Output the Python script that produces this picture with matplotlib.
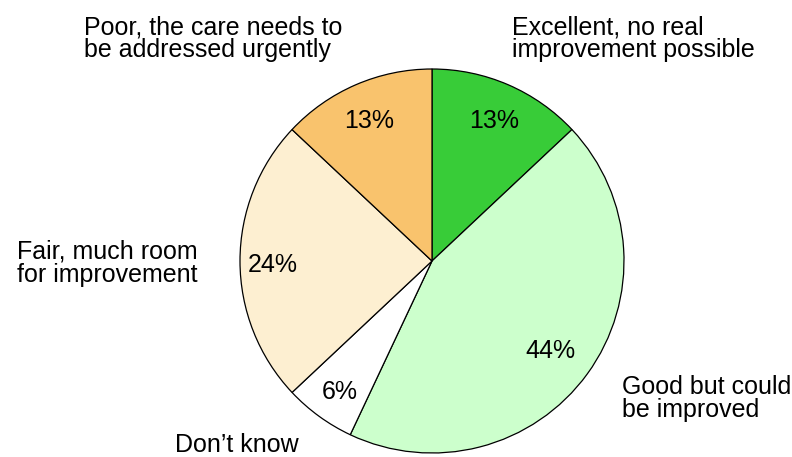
import numpy as np
import matplotlib.pyplot as plt

plt.rcParams['font.family'] = ['Liberation Sans', 'DejaVu Sans']

# Survey answers, clockwise from 12 o'clock
labels = [
    "Excellent, no real\nimprovement possible",
    "Good but could\nbe improved",
    "Don\u2019t know",
    "Fair, much room\nfor improvement",
    "Poor, the care needs to\nbe addressed urgently",
]
shares = [13, 44, 6, 24, 13]
colors = ["#38CC38", "#CCFFCC", "#FFFFFF", "#FDEFD1", "#F9C36D"]

# where each category name sits (figure pixels, top-left of the text block)
label_pos = [(512, 15), (622, 375), (175, 433), (17, 240), (84, 15)]
# how far out each percentage sits, as a fraction of the radius
pct_r = [0.82, 0.76, 0.82, 0.83, 0.82]

W, H = 792, 457
cx, cy, R = 432, 261, 192

fig = plt.figure(figsize=(W / 100, H / 100), dpi=100)
ax = fig.add_axes([0, 0, 1, 1])

wedges, _ = ax.pie(shares, colors=colors, startangle=90, counterclock=False,
                   radius=1.0, center=(0, 0),
                   wedgeprops=dict(edgecolor="black", linewidth=0.9))

# axis limits so that the pie lands at (cx, cy) with radius R pixels
ax.set_xlim(-cx / R, (W - cx) / R)
ax.set_ylim(-(H - cy) / R, cy / R)
ax.set_aspect("equal")
ax.axis("off")

drop = 4 / R  # percentages sit a touch below the slice centre line
for w, s, r in zip(wedges, shares, pct_r):
    mid = np.deg2rad((w.theta1 + w.theta2) / 2)
    ax.text(r * np.cos(mid), r * np.sin(mid) - drop, f"{s}%", fontsize=18,
            ha="center", va="center")

for text, (px, py) in zip(labels, label_pos):
    fig.text(px / W, 1 - py / H, text, fontsize=18, ha="left", va="top",
             linespacing=0.93)

fig.savefig("out.png", dpi=100)
